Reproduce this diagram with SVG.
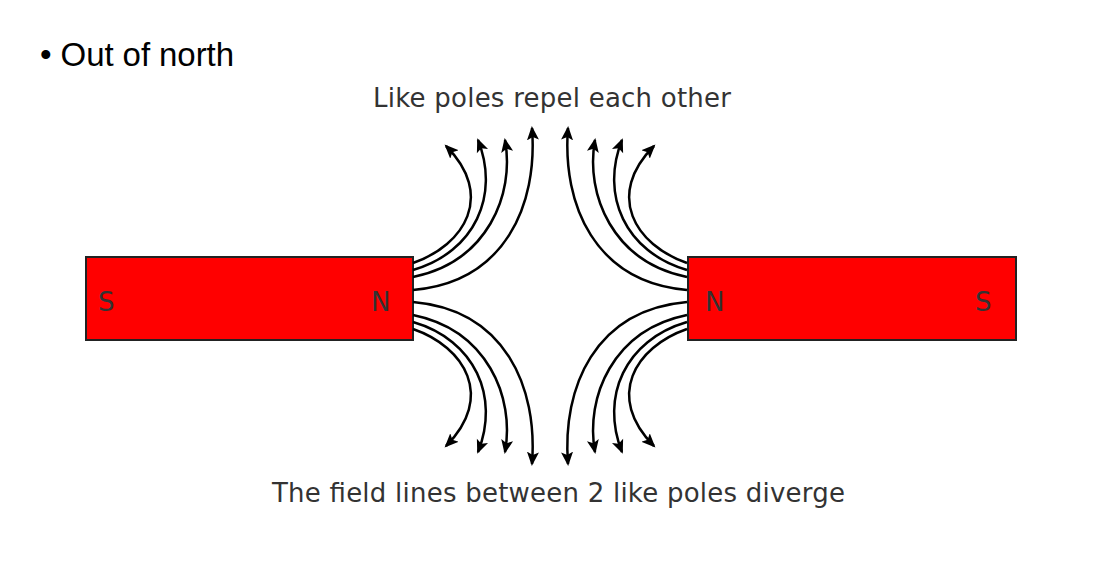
<svg xmlns="http://www.w3.org/2000/svg" xmlns:xlink="http://www.w3.org/1999/xlink" width="1094" height="563" viewBox="0 0 1094 563">
<style>
.mag{fill:#ff0000;stroke:#222;stroke-width:2}
.t{font-family:"DejaVu Sans",sans-serif;font-size:26px;fill:#333}
.fl{fill:none;stroke:#000;stroke-width:2.5;marker-end:url(#ah)}
</style>
<defs>
<marker id="ah" markerWidth="16" markerHeight="16" refX="12" refY="7" orient="auto" markerUnits="userSpaceOnUse">
<path d="M0,1 L14,7 L0,13 L3,7 Z" fill="#000"/>
</marker>
<g id="quad">
<path class="fl" d="M413,263 C465,245 495,195 446,146"/>
<path class="fl" d="M413,270 C475,252 500,195 478,140"/>
<path class="fl" d="M413,277 C487,262 515,195 505,140"/>
<path class="fl" d="M413,290 C505,282 538,205 532,128"/>
</g>
</defs>
<rect width="1094" height="563" fill="#fff"/>
<text x="40" y="66" font-family="Liberation Sans,sans-serif" font-size="33" fill="#000" textLength="194">• Out of north</text>
<text class="t" x="373" y="107" textLength="358">Like poles repel each other</text>
<text class="t" x="272" y="502" textLength="573">The field lines between 2 like poles diverge</text>
<g id="magnet-left"><rect class="mag" x="86" y="257" width="327" height="83"/>
<text class="t" x="98" y="311" fill="#222">S</text><text class="t" x="371" y="311" fill="#222">N</text></g>
<g id="magnet-right"><rect class="mag" x="688" y="257" width="328" height="83"/>
<text class="t" x="705" y="311" fill="#222">N</text><text class="t" x="975" y="311" fill="#222">S</text></g>
<g id="connectors">
<use xlink:href="#quad"/>
<use xlink:href="#quad" transform="translate(0,592) scale(1,-1)"/>
<use xlink:href="#quad" transform="translate(1100,0) scale(-1,1)"/>
<use xlink:href="#quad" transform="translate(1100,592) scale(-1,-1)"/>
</g>
</svg>
